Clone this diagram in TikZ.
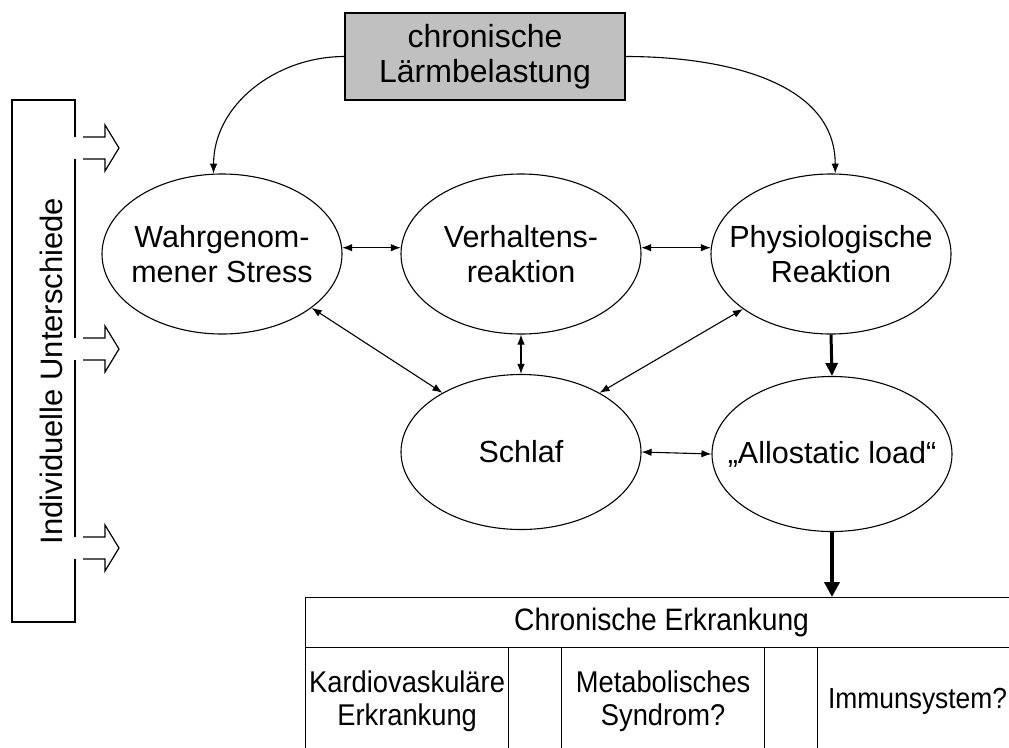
\documentclass[tikz,border=0pt]{standalone}
\usepackage{fontspec}
\setmainfont{Liberation Sans}
\newfontfamily\narrowsans[FakeStretch=0.91]{Liberation Sans}
\usetikzlibrary{shapes.geometric,arrows.meta}
\definecolor{boxgrey}{HTML}{C0C0C0}
\begin{document}
\begin{tikzpicture}[x=1pt,y=1pt,
  txt/.style={font=\fontsize{30.5}{35}\selectfont, align=center, inner sep=0pt},
  ell/.style={draw, line width=1.1pt, ellipse, minimum width=240pt, minimum height=160pt, inner sep=0pt},
  dbl/.style={line width=1.1pt, {Latex[length=10pt,width=7.5pt]}-{Latex[length=10pt,width=7.5pt]}},
  one/.style={line width=1.1pt, -{Latex[length=10pt,width=7.5pt]}},
  fat/.style={line width=3pt, -{Triangle[length=13pt,width=12pt]}},
  fatter/.style={line width=4pt, -{Triangle[length=15pt,width=15pt]}},
  cell/.style={draw, line width=1.2pt, anchor=north west, minimum height=108pt, inner sep=0pt, align=center, font=\narrowsans\fontsize{30}{33}\selectfont},
  hollow/.style={line width=1.2pt, line join=miter},
]
\useasboundingbox (0,0) rectangle (1009,-747);
\begin{scope}
\clip (0,0) rectangle (1009,-747);

% grey source box
\node[draw, line width=1.1pt, fill=boxgrey, minimum width=280pt, minimum height=87pt, txt, font=\fontsize{32}{35}\selectfont] (G) at (485,-56.5) {chronische\\Lärmbelastung};

% ellipses
\node[ell, label={[txt]center:Wahrgenom-\\mener Stress}] (W) at (222,-254) {};
\node[ell, label={[txt]center:Verhaltens-\\reaktion}] (V) at (521,-254) {};
\node[ell, label={[txt]center:Physiologische\\Reaktion}] (P) at (831,-254) {};
\node[ell, minimum height=155pt, label={[txt]center:Schlaf}] (S) at (521,-452) {};
\node[ell, minimum height=155pt, label={[txt]center:\char"201E Allostatic load\char"201C}] (A) at (832,-454) {};

% curved arrows from noise
\draw[one] (G.west) to[out=180,in=90] (W.96);
\draw[one] (G.east) to[out=0,in=90] (P.87);

% double arrows
\draw[dbl] (W.3) -- (V.177);
\draw[dbl] (V.3) -- (P.177);
\draw[dbl] (V.south) -- (S.north);
\draw[dbl] (W.-31.5) -- (S.143);
\draw[dbl] (P.212) -- (S.37);
\draw[dbl] (S.east) -- (A.west);

% table
\node[draw, line width=1.2pt, anchor=north west, minimum width=712pt, minimum height=50pt, inner sep=0pt, font=\narrowsans\fontsize{31}{34}\selectfont] (T) at (305,-597) {Chronische Erkrankung};
\node[cell, minimum width=203pt] (C1) at (305,-647) {Kardiovaskuläre\\Erkrankung};
\node[cell, minimum width=53pt] (C2) at (508,-647) {};
\node[cell, minimum width=203pt] (C3) at (561,-647) {Metabolisches\\Syndrom?};
\node[cell, minimum width=53pt] (C4) at (764,-647) {};
\node[cell, minimum width=200pt, font=\narrowsans\fontsize{29}{33}\selectfont, text width=180pt, align=center] (C5) at (817,-647) {Immunsystem?};

% thick arrows
\draw[fat] (P.south) -- (A.north);
\draw[fatter] (A.south) -- (A.south |- T.north);

% individual differences box
\node[txt, font=\fontsize{31}{35}\selectfont, rotate=90, anchor=base] (I) at (62,-371) {Individuelle Unterschiede};
\draw[line width=1.2pt] (75,-137) -- (75,-100) -- (12,-100) -- (12,-622) -- (75,-622) -- (75,-559);
\draw[line width=1.2pt] (75,-159) -- (75,-338);
\draw[line width=1.2pt] (75,-360) -- (75,-537);
\foreach \c in {148,349,548}{
  \draw[hollow] (83,-\c+11) -- (105,-\c+11) -- (105,-\c+23) -- (119,-\c) -- (105,-\c-23) -- (105,-\c-11) -- (83,-\c-11);
}
\end{scope}
\end{tikzpicture}
\end{document}
